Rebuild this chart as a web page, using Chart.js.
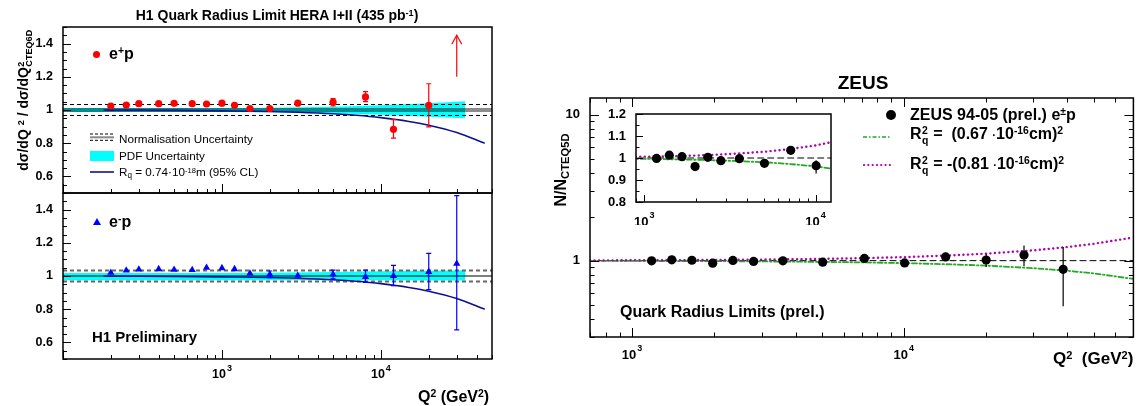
<!DOCTYPE html>
<html lang="en">
<head>
<meta charset="UTF-8">
<title>Quark radius limits - H1 and ZEUS</title>
<style>
  body { margin: 0; background: #fff; }
  #page { position: relative; width: 1138px; height: 406px; overflow: hidden;
          font-family: "Liberation Sans", Arial, sans-serif; color: #000; }
  canvas { position: absolute; }
  .t { position: absolute; white-space: nowrap; line-height: 1; font-weight: bold; }
  .n { font-weight: normal; }
  .c { transform: translate(-50%, -50%); }
  .r { transform: translate(-50%, -50%) rotate(-90deg); }
  .sp { position: relative; top: -0.45em; font-size: 0.65em; }
  .sb { position: relative; top: 0.3em; font-size: 0.7em; }
  .ss { position: relative; display: inline-block; width: 0.45em; height: 0; }
  .ss > .u, .ss > .d { position: absolute; left: 0.05em; font-size: 0.65em; }
  .ss > .u { top: -1.24em; }
  .ss > .d { top: -0.33em; }
  .key { position: absolute; }
</style>
<script src="https://cdn.jsdelivr.net/npm/chart.js"></script>
</head>
<body>
<div id="page">
  <canvas id="h1top" width="500" height="200" style="left:0;top:0"></canvas>
  <canvas id="h1bot" width="500" height="218" style="left:0;top:188px"></canvas>
  <canvas id="zeus" width="598" height="346" style="left:540px;top:60px"></canvas>
  <canvas id="inset" width="260" height="125" style="left:580px;top:100px"></canvas>

  <!-- H1 texts -->
  <div class="t c" style="left:277px;top:15px;font-size:14px">H1 Quark Radius Limit HERA I+II (435 pb<span class="sp">-1</span>)</div>
  <div class="t r" style="left:23px;top:100px;font-size:14px">d&sigma;/dQ <span class="sp">2</span> / d&sigma;/dQ<span class="ss" style="width:2.7em"><span class="u">2</span><span class="d">CTEQ6D</span></span></div>

  <div class="key" style="left:93px;top:51px;width:7px;height:7px;border-radius:50%;background:#ff0000"></div>
  <div class="t" style="left:109px;top:46px;font-size:16px">e<span class="sp">+</span>p</div>

  <svg class="key" style="left:90px;top:131px" width="24" height="12">
    <line x1="0" y1="6.3" x2="24" y2="6.3" stroke="#888" stroke-width="2"/>
    <line x1="0" y1="3" x2="24" y2="3" stroke="#000" stroke-width="1" stroke-dasharray="3,2"/>
    <line x1="0" y1="9.3" x2="24" y2="9.3" stroke="#000" stroke-width="1" stroke-dasharray="3,2"/>
  </svg>
  <div class="t n" style="left:119px;top:133px;font-size:11.7px">Normalisation Uncertainty</div>
  <div class="key" style="left:90px;top:151px;width:24px;height:10px;background:#00ffff"></div>
  <div class="t n" style="left:119px;top:150px;font-size:11.7px">PDF Uncertainty</div>
  <svg class="key" style="left:90px;top:168px" width="24" height="8">
    <line x1="0" y1="4" x2="24" y2="4" stroke="#10108f" stroke-width="1.6"/>
  </svg>
  <div class="t n" style="left:119px;top:166px;font-size:11.7px">R<span class="sb">q</span> = 0.74&middot;10<span class="sp">-18</span>m (95% CL)</div>

  <div class="key" style="left:93px;top:218px;width:0;height:0;border-left:4px solid transparent;border-right:4px solid transparent;border-bottom:7px solid #0000ff"></div>
  <div class="t" style="left:109px;top:214px;font-size:16px">e<span class="sp">-</span>p</div>
  <div class="t" style="left:92px;top:329px;font-size:15px">H1 Preliminary</div>
  <div class="t" style="left:418px;top:389px;font-size:16px">Q<span class="sp">2</span> (GeV<span class="sp">2</span>)</div>

  <!-- ZEUS texts -->
  <div class="t c" style="left:863px;top:82px;font-size:19px">ZEUS</div>
  <div class="t r" style="left:561px;top:170px;font-size:16px">N/N<span class="sb">CTEQ5D</span></div>

  <div class="key" style="left:886px;top:110px;width:10px;height:10px;border-radius:50%;background:#000"></div>
  <div class="t" style="left:910px;top:107px;font-size:16px">ZEUS 94-05 (prel.) e<span class="sp">&plusmn;</span>p</div>
  <svg class="key" style="left:863px;top:134px" width="28" height="6">
    <line x1="0" y1="3" x2="28" y2="3" stroke="#22aa22" stroke-width="1.6" stroke-dasharray="4,2,1.5,2"/>
  </svg>
  <div class="t" style="left:910px;top:126px;font-size:16px">R<span class="ss"><span class="u">2</span><span class="d">q</span></span> = &nbsp;(0.67 <span style="font-size:0.7em">&middot;</span>10<span class="sp">-16</span>cm)<span class="sp">2</span></div>
  <svg class="key" style="left:863px;top:162px" width="28" height="6">
    <line x1="1" y1="3" x2="28" y2="3" stroke="#b000b0" stroke-width="2.2" stroke-linecap="round" stroke-dasharray="0.1,4.2"/>
  </svg>
  <div class="t" style="left:910px;top:156px;font-size:16px">R<span class="ss"><span class="u">2</span><span class="d">q</span></span> = -(0.81 <span style="font-size:0.7em">&middot;</span>10<span class="sp">-16</span>cm)<span class="sp">2</span></div>

  <div class="t" style="left:620px;top:304px;font-size:16px">Quark Radius Limits (prel.)</div>
  <div class="t" style="left:1053px;top:350px;font-size:17px">Q<span class="sp">2</span>&nbsp; (GeV<span class="sp">2</span>)</div>
</div>

<script>
  // ---------- H1 e+p / e-p ratios to CTEQ6D ----------
  const epQ2 = [200, 250, 300, 400, 500, 650, 800, 1000, 1200, 1500, 2000, 3000, 5000, 8000, 12000, 20000];
  const epRatio = [1.024, 1.030, 1.038, 1.038, 1.040, 1.038, 1.036, 1.041, 1.028, 1.009, 1.009, 1.041, 1.047, 1.079, 0.884, 1.028];
  const epHi = [null, null, null, null, null, null, null, null, null, null, null, null, 1.069, 1.111, 0.942, 1.158];
  const epLo = [null, null, null, null, null, null, null, null, null, null, null, null, 1.024, 1.050, 0.830, 0.898];
  // point above the plot range, shown as an arrow
  const epArrowQ2 = [30000, 30000];
  const epArrowY = [1.2, 1.45];

  const emQ2 = [200, 250, 300, 400, 500, 650, 800, 1000, 1200, 1500, 2000, 3000, 5000, 8000, 12000, 20000, 30000];
  const emRatio = [1.020, 1.034, 1.040, 1.042, 1.038, 1.036, 1.050, 1.048, 1.042, 1.016, 1.010, 1.002, 1.009, 0.995, 1.000, 1.025, 1.074];
  const emHi = [null, null, null, null, null, null, null, null, null, null, 1.030, null, 1.035, 1.035, 1.064, 1.136, 1.484];
  const emLo = [null, null, null, null, null, null, null, null, null, null, 0.990, null, 0.983, 0.962, 0.942, 0.918, 0.676];

  // Rq = 0.74e-18 m limit curve
  const rqQ2 = [180, 300, 500, 1000, 2000, 3000, 5000, 7000, 10000, 15000, 20000, 30000, 45000];
  const rqRatio = [0.999, 0.999, 0.998, 0.995, 0.991, 0.986, 0.977, 0.968, 0.954, 0.931, 0.908, 0.864, 0.800];

  // PDF uncertainty band
  const pdfQ2 = [100, 1000, 2000, 5000, 10000, 20000, 34000];
  const pdfTopHi = [1.012, 1.012, 1.014, 1.020, 1.028, 1.040, 1.053];
  const pdfTopLo = [0.988, 0.988, 0.986, 0.980, 0.972, 0.960, 0.950];
  const pdfBotHi = [1.018, 1.018, 1.020, 1.024, 1.028, 1.032, 1.034];
  const pdfBotLo = [0.975, 0.975, 0.975, 0.975, 0.974, 0.973, 0.973];

  // normalisation uncertainty and unity line
  const normQ2 = [100, 50000];
  const normHi = [1.033, 1.033];
  const normLo = [0.967, 0.967];
  const unity = [1, 1];

  const h1YTicks = [0.6, 0.8, 1, 1.2, 1.4];
  const h1XTicks = [1000, 10000];

  // ---------- ZEUS 94-05 ----------
  const zQ2 = [1180, 1400, 1660, 1980, 2350, 2800, 3590, 5030, 7160, 10070, 14260, 20100, 27700, 38600];
  const zRatio = [0.998, 1.013, 1.006, 0.961, 1.003, 0.988, 0.997, 0.976, 1.035, 0.965, 1.060, 1.010, 1.093, 0.872];
  const zHi = [null, null, null, null, null, null, null, null, 1.055, 0.990, null, 1.117, 1.270, 1.240];
  const zLo = [null, null, null, null, null, null, null, null, 1.015, 0.930, null, 0.905, 0.915, 0.487];

  const fitQ2 = [700, 1000, 1500, 2000, 3000, 5000, 7000, 10000, 15000, 20000, 30000, 40000, 50000, 70000];
  const fitPos = [0.997, 0.996, 0.994, 0.992, 0.988, 0.981, 0.973, 0.962, 0.943, 0.925, 0.888, 0.853, 0.818, 0.750];
  const fitNeg = [1.004, 1.006, 1.008, 1.011, 1.017, 1.028, 1.040, 1.057, 1.086, 1.116, 1.176, 1.239, 1.304, 1.440];
  const zUnityQ2 = [700, 70000];

  const zeusYTicks = [1, 10];
  const zeusXTicks = [1000, 10000];
  const insetYTicks = [0.8, 0.9, 1, 1.1, 1.2];
  const insetXTicks = [1000, 10000];

  const pts = (xs, ys) => xs.map((x, i) => ({ x: x, y: ys[i] }));
  const FONT = '"Liberation Sans", Arial, sans-serif';

  Chart.defaults.font.family = FONT;
  Chart.defaults.font.weight = 'bold';
  Chart.defaults.color = '#000';
  Chart.defaults.animation = false;

  function logTicks(min, max) {
    const out = [];
    for (let d = Math.floor(Math.log10(min)); d <= Math.ceil(Math.log10(max)); d++) {
      for (let m = 1; m < 10; m++) {
        const v = m * Math.pow(10, d);
        if (v >= min * 0.9999 && v <= max * 1.0001) out.push({ v: v, major: m === 1 });
      }
    }
    return out;
  }
  function linTicks(min, max, minor, major) {
    const out = [];
    for (let i = Math.ceil(min / minor - 1e-6); i <= Math.floor(max / minor + 1e-6); i++) {
      const v = i * minor;
      out.push({ v: v, major: Math.abs(v / major - Math.round(v / major)) < 1e-6 });
    }
    return out;
  }
  const linLabel = v => (v === 1 ? '1' : v.toFixed(1));
  const logLabel = v => {
    const e = Math.round(Math.log10(v));
    return e === 0 ? ['1', ''] : e === 1 ? ['10', ''] : ['10', String(e)];
  };

  // ROOT-like frame with inward ticks and tick labels
  const frame = {
    id: 'frame',
    beforeDraw(chart, args, o) {
      if (!o.white) return;
      const a = chart.chartArea, ctx = chart.ctx;
      ctx.save();
      ctx.fillStyle = '#fff';
      ctx.fillRect(a.left, a.top, a.right - a.left, a.bottom - a.top);
      ctx.restore();
    },
    afterDatasetsDraw(chart, args, o) {
      const { ctx, chartArea: a, scales: { x, y } } = chart;
      ctx.save();
      ctx.strokeStyle = '#000';
      ctx.lineWidth = 1;
      ctx.beginPath();
      for (const t of logTicks(x.min, x.max)) {
        const px = Math.round(x.getPixelForValue(t.v)) + 0.5;
        const L = t.major ? o.xMaj : o.xMin;
        ctx.moveTo(px, a.bottom); ctx.lineTo(px, a.bottom - L);
        if (o.top) { ctx.moveTo(px, a.top); ctx.lineTo(px, a.top + L); }
      }
      const yt = y.type === 'logarithmic' ? logTicks(y.min, y.max) : linTicks(y.min, y.max, o.yMinor, o.yMajor);
      for (const t of yt) {
        const py = Math.round(y.getPixelForValue(t.v)) + 0.5;
        const L = t.major ? o.yMaj : o.yMin;
        ctx.moveTo(a.left, py); ctx.lineTo(a.left + L, py);
        if (o.right) { ctx.moveTo(a.right, py); ctx.lineTo(a.right - L, py); }
      }
      ctx.stroke();
      ctx.lineWidth = 1.5;
      ctx.strokeRect(a.left, a.top, a.right - a.left, a.bottom - a.top);

      // tick labels
      ctx.fillStyle = '#000';
      ctx.textBaseline = 'middle';
      const fs = o.font;
      for (const v of (o.yLabels || [])) {
        const py = y.getPixelForValue(v);
        ctx.textAlign = 'right';
        ctx.font = 'bold ' + fs + 'px ' + FONT;
        ctx.fillText(y.type === 'logarithmic' ? logLabel(v)[0] : linLabel(v), a.left - o.yPad, py);
      }
      for (const v of (o.xLabels || [])) {
        const px = x.getPixelForValue(v);
        const [base, exp] = logLabel(v);
        ctx.font = 'bold ' + fs + 'px ' + FONT;
        const w1 = ctx.measureText(base).width;
        ctx.font = 'bold ' + Math.round(fs * 0.7) + 'px ' + FONT;
        const w2 = exp ? ctx.measureText(exp).width + 1 : 0;
        const x0 = px - (w1 + w2) / 2;
        const yc = a.bottom + o.xDy;
        ctx.textAlign = 'left';
        ctx.font = 'bold ' + fs + 'px ' + FONT;
        ctx.fillText(base, x0, yc);
        if (exp) {
          ctx.font = 'bold ' + Math.round(fs * 0.7) + 'px ' + FONT;
          ctx.fillText(exp, x0 + w1 + 1, yc - fs * 0.5);
        }
      }
      ctx.restore();
    }
  };

  // vertical error bars and the off-scale arrow, drawn from the dataset values
  const errBars = {
    id: 'errBars',
    beforeDatasetDraw(chart, args) {
      const ds = chart.data.datasets[args.index];
      if (!ds.hi) return;
      const { ctx, chartArea: a, scales: { x, y } } = chart;
      ctx.save();
      ctx.beginPath();
      ctx.rect(a.left, a.top, a.right - a.left, a.bottom - a.top);
      ctx.clip();
      ctx.strokeStyle = ds.errColor;
      ctx.lineWidth = 1.2;
      ds.data.forEach((p, i) => {
        if (ds.hi[i] == null) return;
        const px = x.getPixelForValue(p.x);
        const y1 = y.getPixelForValue(ds.hi[i]), y2 = y.getPixelForValue(ds.lo[i]);
        ctx.beginPath();
        ctx.moveTo(px, y1); ctx.lineTo(px, y2);
        if (ds.cap) {
          ctx.moveTo(px - 2.5, y1); ctx.lineTo(px + 2.5, y1);
          ctx.moveTo(px - 2.5, y2); ctx.lineTo(px + 2.5, y2);
        }
        ctx.stroke();
      });
      ctx.restore();
    },
    afterDatasetDraw(chart, args) {
      const ds = chart.data.datasets[args.index];
      if (!ds.arrow) return;
      const { ctx, scales: { x, y } } = chart;
      const last = ds.data[ds.data.length - 1];
      const px = x.getPixelForValue(last.x), py = y.getPixelForValue(last.y);
      ctx.save();
      ctx.strokeStyle = ds.borderColor;
      ctx.lineWidth = 1.2;
      ctx.beginPath();
      ctx.moveTo(px - 5, py + 9); ctx.lineTo(px, py); ctx.lineTo(px + 5, py + 9);
      ctx.stroke();
      ctx.restore();
    }
  };

  const noGrid = { display: false, drawTicks: false };
  const hidden = { display: false };

  function h1Scales(xHeight) {
    return {
      x: { type: 'logarithmic', min: 100, max: 50000, grid: noGrid, border: hidden, ticks: hidden,
           afterFit: s => { s.height = xHeight; } },
      y: { min: 0.5, max: 1.5, grid: noGrid, border: hidden, ticks: hidden,
           afterFit: s => { s.width = 63; } }
    };
  }
  function h1Frame(withX) {
    return { xMaj: 9, xMin: 4, yMaj: 8, yMin: 4, yMinor: 0.05, yMajor: 0.2,
             font: 12.5, yPad: 10, yLabels: h1YTicks, xLabels: withX ? h1XTicks : [], xDy: 16 };
  }

  function line(xs, ys, color, width, dash, order) {
    return { data: pts(xs, ys), borderColor: color, borderWidth: width, borderDash: dash || [],
             pointRadius: 0, fill: false, order: order };
  }

  // ---------- H1 e+p panel ----------
  new Chart(document.getElementById('h1top'), {
    type: 'line',
    data: {
      datasets: [
        { data: pts(epQ2, epRatio), showLine: false, pointRadius: 3.6, pointBackgroundColor: '#ff0000',
          pointBorderWidth: 0, hi: epHi, lo: epLo, errColor: '#ff0000', cap: true, order: 1 },
        Object.assign(line(epArrowQ2, epArrowY, '#ff0000', 1.2, null, 2), { arrow: true }),
        Object.assign(line(rqQ2, rqRatio, '#10108f', 1.6, null, 3), { cubicInterpolationMode: 'monotone' }),
        line(normQ2, normHi, '#000', 1, [4, 3], 4),
        line(normQ2, normLo, '#000', 1, [4, 3], 4),
        line(normQ2, unity, 'rgba(0,0,0,0.45)', 4, null, 5),
        line(pdfQ2, pdfTopHi, 'rgba(0,0,0,0)', 0, null, 6),
        Object.assign(line(pdfQ2, pdfTopLo, 'rgba(0,0,0,0)', 0, null, 6), { fill: '-1', backgroundColor: '#00ffff' })
      ]
    },
    options: {
      responsive: false,
      layout: { padding: { top: 27, right: 8, left: 0, bottom: 0 } },
      plugins: { legend: { display: false }, tooltip: { enabled: false }, frame: h1Frame(false) },
      scales: h1Scales(7)
    },
    plugins: [errBars, frame]
  });

  // ---------- H1 e-p panel ----------
  new Chart(document.getElementById('h1bot'), {
    type: 'line',
    data: {
      datasets: [
        { data: pts(emQ2, emRatio), showLine: false, pointStyle: 'triangle', pointRadius: 4.2,
          pointBackgroundColor: '#0000ff', pointBorderColor: '#0000ff', pointBorderWidth: 0,
          hi: emHi, lo: emLo, errColor: '#0000ff', cap: true, order: 1 },
        Object.assign(line(rqQ2, rqRatio, '#10108f', 1.6, null, 3), { cubicInterpolationMode: 'monotone' }),
        line(normQ2, unity, '#000', 1.2, null, 4),
        line(normQ2, normHi, '#666', 2, [4, 3], 5),
        line(normQ2, normLo, '#666', 2, [4, 3], 5),
        line(pdfQ2, pdfBotHi, 'rgba(0,0,0,0)', 0, null, 6),
        Object.assign(line(pdfQ2, pdfBotLo, 'rgba(0,0,0,0)', 0, null, 6), { fill: '-1', backgroundColor: '#00ffff' })
      ]
    },
    options: {
      responsive: false,
      layout: { padding: { top: 5, right: 8, left: 0, bottom: 0 } },
      plugins: { legend: { display: false }, tooltip: { enabled: false }, frame: h1Frame(true) },
      scales: h1Scales(47)
    },
    plugins: [errBars, frame]
  });

  // ---------- ZEUS main panel and inset ----------
  const zDatasets = () => [
    { data: pts(zQ2, zRatio), showLine: false, pointRadius: 4.6, pointBackgroundColor: '#000',
      pointBorderWidth: 0, hi: zHi, lo: zLo, errColor: '#000', cap: false, order: 1 },
    line(fitQ2, fitNeg, '#b000b0', 2.4, [0.1, 4.4], 2),
    line(fitQ2, fitPos, '#22aa22', 1.8, [5, 2.5, 1.5, 2.5], 3),
    line(zUnityQ2, unity, '#000', 1, [6, 4], 4)
  ];

  new Chart(document.getElementById('zeus'), {
    type: 'line',
    data: { datasets: zDatasets() },
    options: {
      responsive: false,
      layout: { padding: { top: 38, right: 4, left: 0, bottom: 0 } },
      elements: { line: { borderCapStyle: 'round' } },
      plugins: { legend: { display: false }, tooltip: { enabled: false },
                 frame: { xMaj: 9, xMin: 4.5, yMaj: 9, yMin: 4.5, top: true, right: true,
                          font: 13, yPad: 10, yLabels: zeusYTicks, xLabels: zeusXTicks, xDy: 18 } },
      scales: {
        x: { type: 'logarithmic', min: 700, max: 70000, grid: noGrid, border: hidden, ticks: hidden,
             afterFit: s => { s.height = 69; } },
        y: { type: 'logarithmic', min: 0.3, max: 13, grid: noGrid, border: hidden, ticks: hidden,
             afterFit: s => { s.width = 50; } }
      }
    },
    plugins: [errBars, frame]
  });

  new Chart(document.getElementById('inset'), {
    type: 'line',
    data: { datasets: zDatasets() },
    options: {
      responsive: false,
      layout: { padding: { top: 14, right: 9, left: 0, bottom: 0 } },
      elements: { line: { borderCapStyle: 'round' } },
      plugins: { legend: { display: false }, tooltip: { enabled: false },
                 frame: { white: true, xMaj: 7, xMin: 3.5, yMaj: 7, yMin: 3.5, yMinor: 0.05, yMajor: 0.1,
                          font: 13, yPad: 10, yLabels: insetYTicks, xLabels: insetXTicks, xDy: 20 } },
      scales: {
        x: { type: 'logarithmic', min: 895, max: 12300, grid: noGrid, border: hidden, ticks: hidden,
             afterFit: s => { s.height = 23; } },
        y: { min: 0.8, max: 1.2, grid: noGrid, border: hidden, ticks: hidden,
             afterFit: s => { s.width = 56; } }
      }
    },
    plugins: [errBars, frame]
  });
</script>
</body>
</html>
